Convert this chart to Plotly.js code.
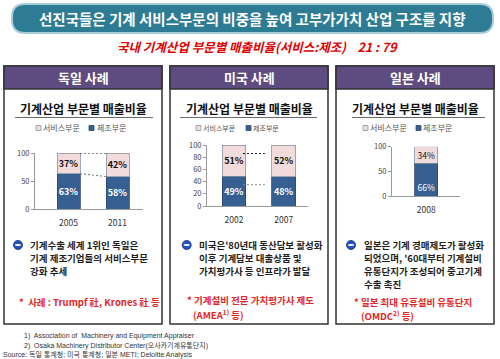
<!DOCTYPE html>
<html>
<head>
<meta charset="utf-8">
<script src="https://cdn.plot.ly/plotly-3.0.1.min.js"></script>
<style>
  html, body { margin: 0; padding: 0; background: #fff; }
  #chart { width: 500px; height: 359px; }
</style>
</head>
<body>
<div id="chart"></div>
<script>
// ---------------- DATA ----------------
const deYears = ['2005', '2011'];
const deService = [37, 42];
const deManuf = [63, 58];

const usYears = ['2002', '2007'];
const usService = [51, 52];
const usManuf = [49, 48];
// decorative dashed guide levels drawn between US bars (% values)
const usGuideLevels = [86, 35];

const jpYears = ['2008'];
const jpService = [34];
const jpManuf = [66];

const legendNames = ['서비스부문', '제조부문'];
const chartTitle = '기계산업 부문별 매출비율';
const panelTitles = ['독일 사례', '미국 사례', '일본 사례'];
const yTicksDe = [0, 50, 100];
const yTicksUs = [0, 20, 40, 60, 80, 100];
const yTicksJp = [0, 50, 100];

// ---------------- HELPERS ----------------
const W = 500, H = 359;
const X = v => v / W;
const Y = v => 1 - v / H;
const KR = 'Noto Sans CJK KR, Noto Sans, sans-serif';
const NAVY = '#376092';
const PINK = '#f2dcdb';
const PURPLE = '#5e4b80';
const RED = '#e3261f';

function ann(text, x, y, o) {
  o = o || {};
  return {
    text: text, x: X(x), y: Y(y), xref: 'paper', yref: 'paper',
    xanchor: o.xa || 'center', yanchor: 'middle', showarrow: false,
    borderpad: 0,
    font: { family: o.family || KR, size: o.size || 10, color: o.color || '#222' }
  };
}
function rect(x0, y0, x1, y1, o) {
  o = o || {};
  return {
    type: 'rect', xref: 'paper', yref: 'paper',
    x0: X(x0), x1: X(x1), y0: Y(y1), y1: Y(y0),
    fillcolor: o.fill || 'rgba(0,0,0,0)',
    line: { color: o.line || 'rgba(0,0,0,0)', width: o.lw === undefined ? 1 : o.lw },
    layer: o.layer || 'below'
  };
}
function roundRectPath(x0, y0, x1, y1, r) {
  const p = (a, b) => X(a).toFixed(5) + ',' + Y(b).toFixed(5);
  return 'M ' + p(x0 + r, y0) + ' L ' + p(x1 - r, y0) + ' Q ' + p(x1, y0) + ' ' + p(x1, y0 + r) +
    ' L ' + p(x1, y1 - r) + ' Q ' + p(x1, y1) + ' ' + p(x1 - r, y1) +
    ' L ' + p(x0 + r, y1) + ' Q ' + p(x0, y1) + ' ' + p(x0, y1 - r) +
    ' L ' + p(x0, y0 + r) + ' Q ' + p(x0, y0) + ' ' + p(x0 + r, y0) + ' Z';
}

// ---------------- TRACES ----------------
const traces = [];
function addBars(xa, ya, cats, manuf, service, w, o) {
  const idx = cats.map((c, i) => i);
  traces.push({
    type: 'bar', x: idx, y: manuf, xaxis: xa, yaxis: ya, width: w,
    marker: { color: NAVY, line: { color: '#2b4a72', width: 0.8 } },
    text: manuf.map(v => v + '%'), textposition: 'inside',
    insidetextanchor: o.manufAnchor || 'middle', constraintext: 'none', textangle: 0,
    textfont: { family: KR, size: o.size, color: '#ffffff', weight: o.weight },
    hoverinfo: 'skip', showlegend: false
  });
  traces.push({
    type: 'bar', x: idx, y: service, xaxis: xa, yaxis: ya, width: w,
    marker: { color: PINK, line: { color: '#8894a8', width: 0.8 } },
    text: service.map(v => v + '%'), textposition: 'inside',
    insidetextanchor: 'middle', constraintext: 'none', textangle: 0,
    textfont: { family: KR, size: o.size, color: '#111111', weight: o.weight },
    hoverinfo: 'skip', showlegend: false
  });
}
addBars('x', 'y', deYears, deManuf, deService, 0.47, { size: 9, weight: 'bold' });
addBars('x2', 'y2', usYears, usManuf, usService, 0.48, { size: 9, weight: 'bold' });
addBars('x3', 'y3', jpYears, jpManuf, jpService, 0.463, { size: 8.5, weight: 'normal', manufAnchor: 'start' });

// Germany series lines (connect stacked segment tops between bars)
const deW = 0.47;
traces.push({
  type: 'scatter', mode: 'lines', xaxis: 'x', yaxis: 'y',
  x: [deW / 2, 1 - deW / 2], y: deManuf.map((m, i) => m + deService[i]),
  line: { color: '#111', width: 1, dash: '2px,2px' }, hoverinfo: 'skip', showlegend: false
});
traces.push({
  type: 'scatter', mode: 'lines', xaxis: 'x', yaxis: 'y',
  x: [deW / 2, 1 - deW / 2], y: deManuf,
  line: { color: '#777', width: 1, dash: '2px,2px' }, hoverinfo: 'skip', showlegend: false
});
// US guide lines
usGuideLevels.forEach((lv, i) => {
  traces.push({
    type: 'scatter', mode: 'lines', xaxis: 'x2', yaxis: 'y2',
    x: [0.18, 0.62], y: [lv, lv],
    line: { color: i === 0 ? '#111' : '#888', width: 1, dash: '2px,2px' },
    hoverinfo: 'skip', showlegend: false
  });
});

// ---------------- AXES ----------------
function xAxis(dom, range, cats, anchor) {
  return {
    domain: [X(dom[0]), X(dom[1])], range: range, anchor: anchor,
    tickvals: cats.map((c, i) => i), ticktext: cats,
    showline: true, linecolor: '#9a9a9a', linewidth: 1, ticks: '',
    ticklabelstandoff: 6,
    showgrid: false, zeroline: false, fixedrange: true,
    tickfont: { family: KR, size: 8.5, color: '#333' }
  };
}
function yAxis(dom, ticks, anchor) {
  return {
    domain: [Y(dom[1]), Y(dom[0])], range: [0, 100], anchor: anchor,
    tickvals: ticks, ticksuffix: '%',
    showline: true, linecolor: '#9a9a9a', linewidth: 1,
    ticks: 'outside', ticklen: 3, tickcolor: '#9a9a9a',
    showgrid: false, zeroline: false, fixedrange: true,
    tickfont: { family: KR, size: 7.5, color: '#444' }
  };
}

// ---------------- SHAPES & TEXT ----------------
const shapes = [];
const annotations = [];

// top banner
shapes.push({
  type: 'path', xref: 'paper', yref: 'paper', layer: 'below',
  path: roundRectPath(12, 4, 493, 33, 13),
  fillcolor: '#2e7c94', line: { color: '#a9cdd8', width: 2 }
});
annotations.push(ann('<b>선진국들은 기계 서비스부문의 비중을 높여 고부가가치 산업 구조를 지향</b>', 252.5, 18.5, { size: 14.5, color: '#ffffff' }));

// red subtitle
annotations.push(ann('<b><i>국내 기계산업 부문별 매출비율(서비스:제조)\u00A0\u00A0\u00A0\u00A021 : 79</i></b>', 257.5, 46, { size: 12.5, color: '#e00000' }));

// panels
const panels = [
  { l: 4, r: 162, legendX: [36, 42, 89, 96], legendSize: 8, ul: [15, 153], bullet: 18, textX: 29 },
  { l: 170, r: 328, legendX: [196, 202, 246, 252], legendSize: 7, ul: [180, 317], bullet: 186.7, textX: 198 },
  { l: 336, r: 494, legendX: [363, 369, 416, 422], legendSize: 8, ul: [352, 485], bullet: 351, textX: 363 }
];
const bulletTexts = [
  ['기계수출 세계 1위인 독일은', '기계 제조기업들의 서비스부문', '강화 추세'],
  ["미국은'80년대 동산담보 활성화", '이후 기계담보 대출상품 및', '가치평가사 등 인프라가 발달'],
  ['일본은 기계 경매제도가 활성화', "되었으며, '60대부터 기계설비", '유통단지가 조성되어 중고기계', '수출 촉진']
];
const redTexts = [
  [{ t: '*\u00A0\u00A0사례 : Trumpf 社, Krones 社 등', x: 18, y: 302 }],
  [{ t: '* 기계설비 전문 가치평가사 제도', x: 186, y: 300 }, { t: '(AMEA<sup>1)</sup> 등)', x: 192, y: 314 }],
  [{ t: '* 일본 최대 유휴설비 유통단지', x: 353, y: 302 }, { t: '(OMDC<sup>2)</sup> 등)', x: 360, y: 315 }]
];

panels.forEach((p, i) => {
  const cx = (p.l + p.r) / 2;
  shapes.push(rect(p.l, 66, p.r, 324, { line: '#333333', lw: 1.5 }));
  shapes.push(rect(p.l, 66, p.r, 89, { fill: PURPLE, line: '#333333', lw: 1.5 }));
  annotations.push(ann('<b>' + panelTitles[i] + '</b>', cx, 77.5, { size: 13, color: '#ffffff' }));
  annotations.push(ann('<b>' + chartTitle + '</b>', cx, 108, { size: 12, color: '#111' }));
  shapes.push({
    type: 'line', xref: 'paper', yref: 'paper', layer: 'below',
    x0: X(p.ul[0]), x1: X(p.ul[1]), y0: Y(117.5), y1: Y(117.5),
    line: { color: '#6a6a6a', width: 1.2 }
  });
  const ly = 128, s = 5;
  shapes.push(rect(p.legendX[0], ly - s / 2, p.legendX[0] + s, ly + s / 2, { fill: PINK, line: '#8894a8', lw: 0.8 }));
  shapes.push(rect(p.legendX[2], ly - s / 2, p.legendX[2] + s, ly + s / 2, { fill: NAVY, line: '#2b4a72', lw: 0.8 }));
  annotations.push(ann(legendNames[0], p.legendX[1], ly, { xa: 'left', size: p.legendSize, color: '#555' }));
  annotations.push(ann(legendNames[1], p.legendX[3], ly, { xa: 'left', size: p.legendSize, color: '#555' }));
  const by = 245, r = 4.5;
  shapes.push({
    type: 'circle', xref: 'paper', yref: 'paper', layer: 'above',
    x0: X(p.bullet - r), x1: X(p.bullet + r), y0: Y(by + r), y1: Y(by - r),
    fillcolor: '#2452c4', line: { color: '#102c78', width: 0.8 }
  });
  shapes.push({
    type: 'circle', xref: 'paper', yref: 'paper', layer: 'above',
    x0: X(p.bullet - 3.2), x1: X(p.bullet + 3.2), y0: Y(by + 0.9), y1: Y(by - 0.9),
    fillcolor: '#ffffff', line: { width: 0 }
  });
  bulletTexts[i].forEach((t, k) => {
    annotations.push(ann('<b>' + t + '</b>', p.textX, 245 + k * 13, { xa: 'left', size: 9.5, color: '#1e1e1e' }));
  });
  redTexts[i].forEach(rt => {
    annotations.push(ann('<b>' + rt.t + '</b>', rt.x, rt.y, { xa: 'left', size: 9.5, color: RED }));
  });
});

// footnotes
const FN = 'Liberation Sans, Arial, Noto Sans CJK KR, sans-serif';
annotations.push(ann('1)  Association of  Machinery and Equipment Appraiser', 22.5, 336, { xa: 'left', size: 7, color: '#333', family: FN }));
annotations.push(ann('2)  Osaka Machinery Distributor Center(오사카기계유통단지)', 22.5, 345, { xa: 'left', size: 7, color: '#333', family: FN }));
annotations.push(ann('Source: 독일 통계청; 미국 통계청; 일본 METI; Deloitte Analysis', 2, 354, { xa: 'left', size: 7, color: '#333', family: FN }));

// ---------------- LAYOUT ----------------
const layout = {
  width: W, height: H,
  margin: { l: 0, r: 0, t: 0, b: 0, pad: 0 },
  paper_bgcolor: '#ffffff', plot_bgcolor: 'rgba(0,0,0,0)',
  barmode: 'stack', bargap: 0, showlegend: false,
  font: { family: KR },
  xaxis: xAxis([35, 143], [-0.684, 1.52], deYears, 'y'),
  yaxis: yAxis([153, 209], yTicksDe, 'x'),
  xaxis2: xAxis([207, 308], [-0.543, 1.489], usYears, 'y2'),
  yaxis2: yAxis([145, 206], yTicksUs, 'x2'),
  xaxis3: xAxis([392, 460], [-0.7, 0.688], jpYears, 'y3'),
  yaxis3: yAxis([146.7, 196], yTicksJp, 'x3'),
  shapes: shapes,
  annotations: annotations
};

Plotly.newPlot('chart', traces, layout, { staticPlot: true, displayModeBar: false });
</script>
</body>
</html>
